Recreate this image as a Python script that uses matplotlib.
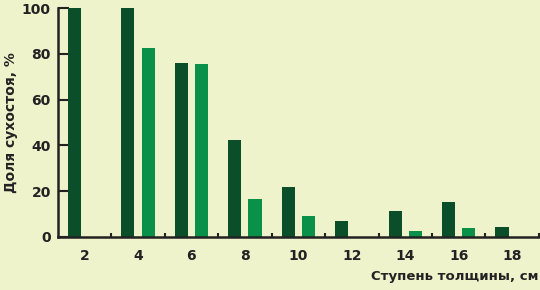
import numpy as np
import matplotlib.pyplot as plt

# thickness classes, cm
classes = ['2', '4', '6', '8', '10', '12', '14', '16', '18']
dark_vals = [100, 100, 76, 42.4, 21.7, 6.9, 11.5, 15.2, 4.2]
light_vals = [0, 82.6, 75.5, 16.6, 9.2, 0, 2.8, 3.9, 0]

bg = '#eef3cc'
dark = '#0b4f2a'
light = '#0a9149'
txt = '#222222'

plt.rcParams['font.family'] = ['DejaVu Sans']

fig = plt.figure(figsize=(5.4, 2.9), dpi=100, facecolor=bg)
ax = fig.add_axes([0.107, 0.183, 0.891, 0.789], facecolor=bg)

x = np.arange(len(classes)) + 0.5
ax.bar(x - 0.19, dark_vals, width=0.245, color=dark, zorder=2)
ax.bar(x + 0.19, light_vals, width=0.245, color=light, zorder=2)

ax.set_xlim(0, len(classes))
ax.set_ylim(0, 100)

ax.set_xticks(x)
ax.set_xticklabels(classes)
ax.set_xticks(np.arange(1, len(classes) + 1), minor=True)
ax.tick_params(axis='x', which='major', length=0, pad=9,
               labelsize=10, labelcolor=txt)
ax.tick_params(axis='x', which='minor', direction='in', length=3,
               width=1.5, color=txt)

ax.set_yticks([0, 20, 40, 60, 80, 100])
ax.tick_params(axis='y', direction='in', length=8, width=1.5, color=txt,
               labelsize=10, labelcolor=txt, pad=5)
for lbl in ax.get_xticklabels() + ax.get_yticklabels():
    lbl.set_fontweight('bold')

for s in ['top', 'right']:
    ax.spines[s].set_visible(False)
for s in ['left', 'bottom']:
    ax.spines[s].set_linewidth(1.8)
    ax.spines[s].set_color(txt)
    ax.spines[s].set_zorder(3)

ax.set_ylabel('Доля сухостоя, %', fontsize=10, fontweight='bold', color=txt,
              labelpad=3)
fig.text(0.998, 0.045, 'Ступень толщины, см', ha='right', va='center',
         fontsize=9.5, fontweight='bold', color=txt)

fig.savefig('out.png', dpi=100, facecolor=bg)
